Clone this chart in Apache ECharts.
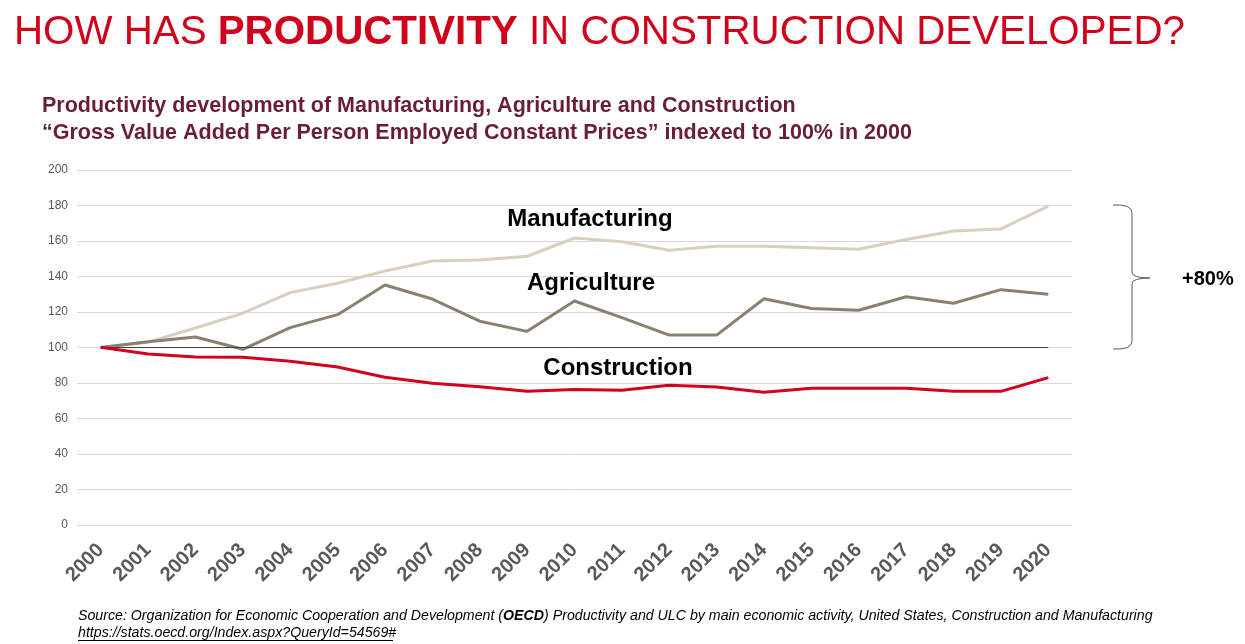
<!DOCTYPE html>
<html>
<head>
<meta charset="utf-8">
<script src="https://cdn.jsdelivr.net/npm/echarts@6/dist/echarts.min.js"></script>
<style>
html,body{margin:0;padding:0;background:#fff;}
#chart{width:1245px;height:644px;}
</style>
</head>
<body>
<div id="chart"></div>
<script>
const years = ['2000','2001','2002','2003','2004','2005','2006','2007','2008','2009','2010','2011','2012','2013','2014','2015','2016','2017','2018','2019','2020'];
const manufacturing = [100, 103, 111, 119.3, 130.9, 136.2, 143.1, 148.7, 149.3, 151.4, 161.7, 159.6, 154.8, 157, 157, 156.2, 155.3, 160.9, 165.6, 166.8, 179.7];
const agriculture = [100, 103.3, 105.9, 99, 111.2, 118.5, 135.2, 127.3, 114.8, 109.1, 126.2, 116.8, 107, 107, 127.5, 122, 121, 128.6, 124.9, 132.6, 130];
const construction = [100.1, 96.3, 94.6, 94.5, 92.2, 89, 83.2, 79.8, 77.9, 75.3, 76.4, 75.9, 78.7, 77.7, 74.8, 77, 77, 77, 75.3, 75.3, 83];
const yTicks = {min: 0, max: 200, interval: 20};
const baselineValue = 100;

const FONT = 'Liberation Sans, Arial, sans-serif';
const NARROW = '"Liberation Sans Narrow", "Arial Narrow", Liberation Sans, sans-serif';
const BR = {stroke: '#595959', lineWidth: 1, fill: null};

const chart = echarts.init(document.getElementById('chart'), null, {renderer: 'canvas'});
chart.setOption({
  backgroundColor: '#ffffff',
  animation: false,
  grid: {left: 77, right: 173, top: 170, bottom: 119, containLabel: false},
  xAxis: {
    type: 'category',
    data: years,
    boundaryGap: true,
    axisLine: {show: false},
    axisTick: {show: false},
    axisLabel: {rotate: 45, margin: 22, fontFamily: FONT, fontSize: 20, fontWeight: 'bold', color: '#595959', interval: 0}
  },
  yAxis: {
    type: 'value',
    min: yTicks.min, max: yTicks.max, interval: yTicks.interval,
    axisLine: {show: false},
    axisTick: {show: false},
    axisLabel: {margin: 9, fontFamily: FONT, fontSize: 12, color: '#595959'},
    splitLine: {lineStyle: {color: '#d9d9d9', width: 1}}
  },
  series: [
    {
      name: 'Manufacturing', type: 'line', data: manufacturing, symbol: 'none',
      lineStyle: {color: '#d9cfbf', width: 3}, itemStyle: {color: '#d9cfbf'}, z: 3
    },
    {
      name: 'Agriculture', type: 'line', data: agriculture, symbol: 'none',
      lineStyle: {color: '#8a8070', width: 3}, itemStyle: {color: '#8a8070'}, z: 4
    },
    {
      name: 'Construction', type: 'line', data: construction, symbol: 'none',
      lineStyle: {color: '#d4001f', width: 3}, itemStyle: {color: '#d4001f'}, z: 5,
      markLine: {
        silent: true, symbol: 'none', label: {show: false},
        lineStyle: {color: '#404040', width: 1, type: 'solid'},
        data: [[{coord: [years[0], baselineValue]}, {coord: [years[years.length - 1], baselineValue]}]]
      }
    }
  ],
  graphic: [
    {
      type: 'text', x: 14, y: 33,
      style: {
        text: '{n|HOW HAS }{b|PRODUCTIVITY}{n| IN CONSTRUCTION DEVELOPED?}',
        verticalAlign: 'middle', fill: '#d0021b',
        rich: {
          n: {fontFamily: FONT, fontSize: 40.3, fontWeight: 'normal', fill: '#d0021b'},
          b: {fontFamily: FONT, fontSize: 40.3, fontWeight: 'bold', fill: '#d0021b'}
        }
      }
    },
    {
      type: 'text', x: 42, y: 106,
      style: {text: 'Productivity development of Manufacturing, Agriculture and Construction', font: 'bold 21.5px ' + FONT, fill: '#6a1c3b', verticalAlign: 'middle'}
    },
    {
      type: 'text', x: 42, y: 133,
      style: {text: '\u201CGross Value Added Per Person Employed Constant Prices\u201D indexed to 100% in 2000', font: 'bold 21.5px ' + FONT, fill: '#6a1c3b', verticalAlign: 'middle'}
    },
    {
      type: 'text', x: 590, y: 219, z: 10,
      style: {text: 'Manufacturing', font: 'bold 24px ' + FONT, fill: '#000', align: 'center', verticalAlign: 'middle'}
    },
    {
      type: 'text', x: 591, y: 283, z: 10,
      style: {text: 'Agriculture', font: 'bold 24px ' + FONT, fill: '#000', align: 'center', verticalAlign: 'middle'}
    },
    {
      type: 'text', x: 618, y: 368, z: 10,
      style: {text: 'Construction', font: 'bold 24px ' + FONT, fill: '#000', align: 'center', verticalAlign: 'middle'}
    },
    {type: 'bezierCurve', shape: {x1: 1113, y1: 205, cpx1: 1132, cpy1: 204, x2: 1132, y2: 213}, style: BR},
    {type: 'line', shape: {x1: 1132, y1: 213, x2: 1132, y2: 272}, style: BR},
    {type: 'bezierCurve', shape: {x1: 1132, y1: 272, cpx1: 1132, cpy1: 278, x2: 1150, y2: 278}, style: BR},
    {type: 'bezierCurve', shape: {x1: 1150, y1: 278, cpx1: 1132, cpy1: 278, x2: 1132, y2: 284}, style: BR},
    {type: 'line', shape: {x1: 1132, y1: 284, x2: 1132, y2: 341}, style: BR},
    {type: 'bezierCurve', shape: {x1: 1132, y1: 341, cpx1: 1132, cpy1: 350, x2: 1113, y2: 349}, style: BR},
    {
      type: 'text', x: 1182, y: 279,
      style: {text: '+80%', font: 'bold 20px ' + FONT, fill: '#000', verticalAlign: 'middle'}
    },
    {
      type: 'text', x: 78, y: 616,
      style: {
        text: '{i|Source: Organization for Economic Cooperation and Development (}{b|OECD}{i|) Productivity and ULC by main economic activity, United States, Construction and Manufacturing}',
        verticalAlign: 'middle', fill: '#000',
        rich: {
          i: {fontFamily: NARROW, fontSize: 14.2, fontStyle: 'italic', fill: '#000'},
          b: {fontFamily: NARROW, fontSize: 14.2, fontStyle: 'italic', fontWeight: 'bold', fill: '#000'}
        }
      }
    },
    {
      type: 'text', x: 78, y: 633,
      style: {text: 'https://stats.oecd.org/Index.aspx?QueryId=54569#', font: 'italic 14.2px ' + NARROW, fill: '#000', verticalAlign: 'middle'}
    },
    {
      type: 'line',
      shape: {x1: 78, y1: 640.5, x2: 393, y2: 640.5},
      style: {stroke: '#000', lineWidth: 1}
    }
  ]
});
</script>
</body>
</html>
